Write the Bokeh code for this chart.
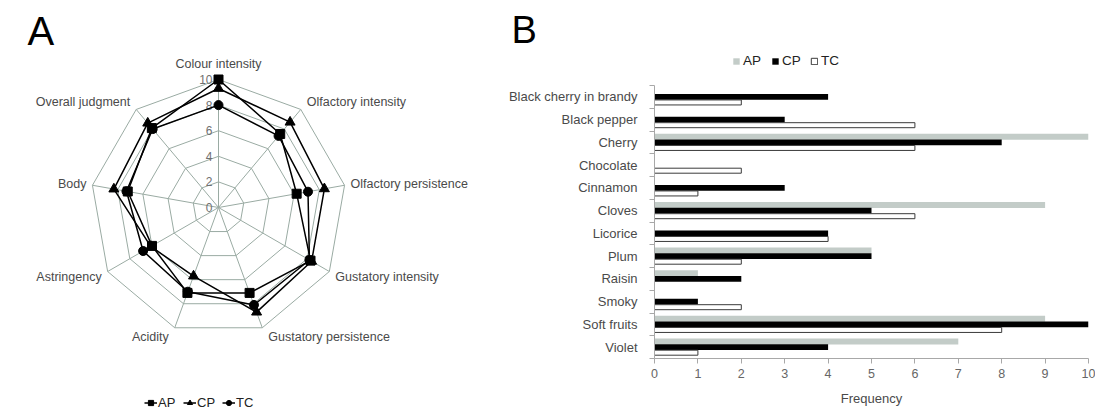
import numpy as np
from bokeh.plotting import figure
from bokeh.models import Range1d, Legend, LegendItem, FixedTicker, Title
from bokeh.layouts import row
from bokeh.embed import file_html
from bokeh.resources import INLINE
from bokeh.core.properties import value

# ---------------- data ----------------
attributes = ["Colour intensity", "Olfactory intensity", "Olfactory persistence",
              "Gustatory intensity", "Gustatory persistence", "Acidity",
              "Astringency", "Body", "Overall judgment"]
ap_scores = [10.0, 7.5, 6.2, 8.3, 7.1, 7.1, 6.0, 7.2, 8.1]
cp_scores = [9.3, 8.7, 8.4, 8.4, 8.7, 5.7, 6.1, 8.3, 8.6]
tc_scores = [8.0, 7.3, 7.1, 8.2, 8.1, 7.0, 6.8, 7.3, 8.0]
ring_levels = [0, 2, 4, 6, 8, 10]

aromas = ["Black cherry in brandy", "Black pepper", "Cherry", "Chocolate",
          "Cinnamon", "Cloves", "Licorice", "Plum", "Raisin", "Smoky",
          "Soft fruits", "Violet"]
ap_freq = [0, 0, 10, 0, 0, 9, 0, 5, 1, 0, 9, 7]
cp_freq = [4, 3, 8, 0, 3, 5, 4, 5, 2, 1, 10, 4]
tc_freq = [2, 6, 6, 2, 1, 6, 4, 2, 0, 2, 8, 1]
freq_ticks = list(range(0, 11))

# ---------------- style ----------------
FONT = "Liberation Sans"
GRID = "#9aaba3"
TXT = "#4a4a4a"
W1, H = 470, 410
W2 = 1095 - W1

# ---------------- radar (A) ----------------
left = figure(width=W1, height=H, x_range=Range1d(0, W1), y_range=Range1d(H, 0),
              output_backend="svg", toolbar_location=None, min_border=0,
              x_axis_location=None, y_axis_location=None)
left.grid.visible = False
left.outline_line_color = None
left.frame_align = False

cx, cy, sc = 218.0, 207.0, 12.8
n = len(attributes)
theta = np.array([2 * np.pi * k / n for k in range(n)])
vmax = ring_levels[-1]


def px(r, th):
    return cx + np.asarray(r) * sc * np.sin(th), cy - np.asarray(r) * sc * np.cos(th)


rx, ry = [], []
for lv in ring_levels[1:]:
    xs, ys = px(np.full(n, lv), theta)
    rx.append(list(xs) + [xs[0]])
    ry.append(list(ys) + [ys[0]])
left.multi_line(rx, ry, line_color=GRID, line_width=1)
ex, ey = px(np.full(n, vmax), theta)
left.segment(x0=[cx] * n, y0=[cy] * n, x1=ex, y1=ey, line_color=GRID, line_width=1)

tick_y = [cy - lv * sc for lv in ring_levels]
left.text(x=[cx - 6] * len(ring_levels), y=tick_y, text=[str(v) for v in ring_levels],
          text_align="right", text_baseline="middle", text_font=value(FONT),
          text_font_size="12px", text_color="#707070")

lx, ly, la, lb = [], [], [], []
for k in range(n):
    th = theta[k]
    x0, y0 = px(vmax, th)
    s = np.sin(th)
    if abs(s) < 0.05:
        lx.append(x0); ly.append(y0 - 9); la.append("center"); lb.append("bottom")
    else:
        lx.append(x0 + (6 if s > 0 else -6))
        ly.append(y0 - 10 * np.cos(th))
        la.append("left" if s > 0 else "right")
        lb.append("middle")
left.text(x=lx, y=ly, text=attributes, text_align=la, text_baseline=lb,
          text_font=value(FONT), text_font_size="12.5px", text_color=TXT)

series = [("AP", ap_scores, "square", 9), ("CP", cp_scores, "triangle", 10),
          ("TC", tc_scores, "circle", 9)]
items = []
for name, vals, mk, sz in series:
    xs, ys = px(vals, theta)
    lr = left.line(list(xs) + [xs[0]], list(ys) + [ys[0]], line_color="black", line_width=1.5)
    sr = left.scatter(xs, ys, marker=mk, size=sz, fill_color="black", line_color="black")
    items.append(LegendItem(label=name, renderers=[lr, sr]))

leg1 = Legend(items=items, orientation="horizontal", location=(144, 0),
              glyph_width=13, glyph_height=13, label_standoff=1, spacing=5,
              padding=0, margin=0, border_line_color=None, background_fill_alpha=0,
              label_text_font=FONT, label_text_font_size="13px", label_text_color="#222222",
              label_height=13)
left.add_layout(leg1, "center")

left.text(x=[27], y=[30], text=["A"], text_font=value(FONT), text_font_size="40px",
          text_color="black", text_baseline="alphabetic")

# ---------------- bars (B) ----------------
TOP, AX_TOP, AX_BOT = 50, 85, 358          # frame top / category area top / x-axis (px)
row_px = (AX_BOT - AX_TOP) / len(aromas)
y_top = -0.5 - (AX_TOP - TOP) / row_px

right = figure(width=W2, height=H, x_range=Range1d(0, 10),
               y_range=Range1d(len(aromas) - 0.5, y_top),
               output_backend="svg", toolbar_location=None,
               min_border_left=184, min_border_right=7, min_border_top=TOP,
               min_border_bottom=H - AX_BOT)
right.grid.visible = False
right.outline_line_color = None
right.frame_align = False

ypos = np.arange(len(aromas))
off, bh = 0.245, 0.26
r_ap = right.hbar(y=ypos - off, left=0, right=ap_freq, height=bh, fill_color="#c3ccc8", line_color=None)
r_cp = right.hbar(y=ypos, left=0, right=cp_freq, height=bh, fill_color="black", line_color=None)
r_tc = right.hbar(y=ypos + off, left=0, right=tc_freq, height=bh - 0.04, fill_color="white",
                  line_color="#3a3a3a", line_width=1)

ya = right.yaxis[0]
ya.ticker = FixedTicker(ticks=list(ypos), minor_ticks=[i - 0.5 for i in range(len(aromas) + 1)])
ya.bounds = (-0.5, len(aromas) - 0.5)
ya.major_label_overrides = {int(i): a for i, a in zip(ypos, aromas)}
ya.major_tick_out = 0
ya.major_tick_in = 0
ya.minor_tick_out = 5
ya.minor_tick_in = 0
ya.axis_line_color = "#a8a8a8"
ya.minor_tick_line_color = "#a8a8a8"
ya.major_label_standoff = 12
ya.major_label_text_font = FONT
ya.major_label_text_font_size = "13px"
ya.major_label_text_color = TXT

xa = right.xaxis[0]
xa.ticker = FixedTicker(ticks=freq_ticks, minor_ticks=[])
xa.major_tick_out = 5
xa.major_tick_in = 0
xa.axis_line_color = "#a8a8a8"
xa.major_tick_line_color = "#a8a8a8"
xa.major_label_standoff = 5
xa.major_label_text_font = FONT
xa.major_label_text_font_size = "12.5px"
xa.major_label_text_color = "#666666"
xa.axis_label = "Frequency"
xa.axis_label_standoff = 10
xa.axis_label_text_font = FONT
xa.axis_label_text_font_size = "13px"
xa.axis_label_text_font_style = "normal"
xa.axis_label_text_color = TXT

leg2 = Legend(items=[LegendItem(label="AP", renderers=[r_ap]),
                     LegendItem(label="CP", renderers=[r_cp]),
                     LegendItem(label="TC", renderers=[r_tc])],
              orientation="horizontal", location=(78, AX_BOT - 68),
              glyph_width=8, glyph_height=8, label_standoff=3, spacing=8,
              padding=0, margin=0, border_line_color=None, background_fill_alpha=0,
              label_text_font=FONT, label_text_font_size="13.5px", label_text_color="#222222",
              label_height=14)
right.add_layout(leg2, "center")

right.title = Title(text="B", align="left", offset=-143, standoff=0, text_font=FONT,
                    text_font_size="38px", text_font_style="normal", text_color="black")

layout = row(left, right)
open("out.html", "w").write(file_html(layout, INLINE))
